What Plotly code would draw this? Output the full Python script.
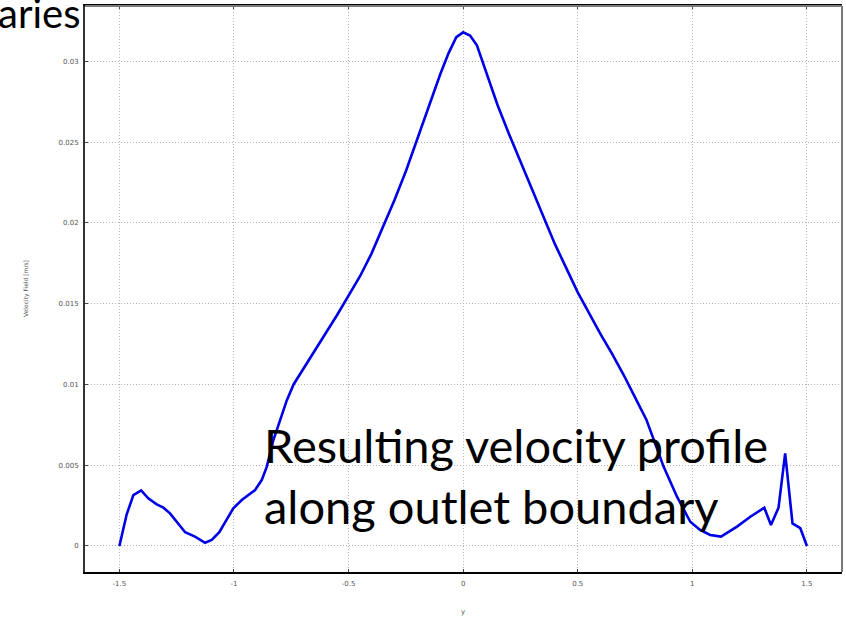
import plotly.graph_objects as go

# ---- data ----
y_pos = [-1.5, -1.468, -1.439, -1.405, -1.374, -1.337, -1.308, -1.279, -1.213, -1.170,
         -1.126, -1.097, -1.064, -1.031, -1.003, -0.966, -0.908, -0.879, -0.857, -0.828,
         -0.799, -0.77, -0.74, -0.70, -0.65, -0.60, -0.55, -0.50, -0.45, -0.40,
         -0.35, -0.30, -0.25, -0.20, -0.15, -0.10, -0.064, -0.03, 0.0, 0.03,
         0.06, 0.10, 0.15, 0.20, 0.25, 0.30, 0.35, 0.40, 0.45, 0.50,
         0.55, 0.60, 0.65, 0.70, 0.75, 0.80, 0.875, 0.933, 0.991, 1.034,
         1.078, 1.125, 1.195, 1.253, 1.314, 1.343, 1.376, 1.405, 1.437, 1.471, 1.5]
velocity = [0.0, 0.00196, 0.00315, 0.00344, 0.00295, 0.00258, 0.00237, 0.00202, 0.00085, 0.00058,
            0.0002, 0.00037, 0.00085, 0.00161, 0.00233, 0.00285, 0.00346, 0.00408, 0.0049, 0.00656,
            0.0078, 0.0090, 0.0100, 0.0109, 0.0120, 0.0132, 0.0143, 0.0155, 0.0167, 0.0181,
            0.0197, 0.0214, 0.0232, 0.0252, 0.0272, 0.0292, 0.0305, 0.0315, 0.0318, 0.0316,
            0.0310, 0.0294, 0.0273, 0.0255, 0.0238, 0.0220, 0.0203, 0.0187, 0.0172, 0.0157,
            0.0144, 0.0131, 0.0119, 0.0106, 0.0092, 0.0078, 0.0049, 0.00305, 0.0015, 0.00099,
            0.00068, 0.00058, 0.0012, 0.00181, 0.00237, 0.0013, 0.00237, 0.00573, 0.0014, 0.0011, 0.0]

x_ticks = [-1.5, -1, -0.5, 0, 0.5, 1, 1.5]
x_tick_labels = ["-1.5", "-1", "-0.5", "0", "0.5", "1", "1.5"]
y_ticks = [0, 0.005, 0.01, 0.015, 0.02, 0.025, 0.03]
y_tick_labels = ["0", "0.005", "0.01", "0.015", "0.02", "0.025", "0.03"]

x_title = "y"
y_title = "Velocity Field [m/s]"
overlay_text = "Resulting velocity profile<br>along outlet boundary"
corner_text = "aries"

# ---- layout geometry (pixels) ----
W, H = 846, 626
L, R, T, B = 85, 4, 6, 54
pw, ph = W - L - R, H - T - B

def px2paper(px, py):
    return (px - L) / pw, (H - B - py) / ph

fig = go.Figure()
fig.add_trace(go.Scatter(x=y_pos, y=velocity, mode="lines",
                         line=dict(color="#0000e6", width=2.6), showlegend=False))

tickfont = dict(family="DejaVu Sans", size=7, color="#555555")
grid = dict(showgrid=True, gridcolor="#b4b4b4", griddash="1px,2px", gridwidth=1, zeroline=False)
fig.update_xaxes(range=[-1.65, 1.653], tickvals=x_ticks, ticktext=x_tick_labels,
                 showline=True, linecolor="#000000", linewidth=2,
                 ticks="inside", ticklen=3, tickcolor="#444444", mirror="ticks",
                 tickfont=tickfont, ticklabelstandoff=4, **grid)
fig.update_yaxes(range=[-0.00161, 0.03343], tickvals=y_ticks, ticktext=y_tick_labels,
                 showline=True, linecolor="#333333", linewidth=2,
                 ticks="inside", ticklen=3, tickcolor="#444444",
                 tickfont=tickfont, ticklabelstandoff=3, **grid)

# lighter top/right frame
fig.add_shape(type="line", xref="paper", yref="paper", x0=0, x1=1, y0=1, y1=1,
              line=dict(color="#7a7a7a", width=2))
fig.add_shape(type="line", xref="paper", yref="paper", x0=1, x1=1, y0=0, y1=1,
              line=dict(color="#7a7a7a", width=2))

ann = []
x0, y0 = px2paper(463, 618)
ann.append(dict(text=x_title, x=x0, y=y0, xref="paper", yref="paper", showarrow=False,
                font=dict(family="DejaVu Sans", size=7, color="#555555")))
x0, y0 = px2paper(20, 289)
ann.append(dict(text=y_title, x=x0, y=y0, xref="paper", yref="paper", showarrow=False,
                textangle=-90, font=dict(family="DejaVu Sans", size=6, color="#555555")))
x0, y0 = px2paper(262, 475)
ann.append(dict(text=overlay_text, x=x0, y=y0, xref="paper", yref="paper", showarrow=False,
                xanchor="left", yanchor="middle", align="left",
                font=dict(family="Lato", size=47, color="#000000")))
x0, y0 = px2paper(82, 13)
ann.append(dict(text=corner_text, x=x0, y=y0, xref="paper", yref="paper", showarrow=False,
                xanchor="right", yanchor="middle",
                font=dict(family="Lato", size=40, color="#000000")))

fig.update_layout(width=W, height=H, margin=dict(l=L, r=R, t=T, b=B),
                  paper_bgcolor="white", plot_bgcolor="white", annotations=ann)

fig.write_html("out.html", config={"displayModeBar": False},
               post_script="document.body.style.margin='0px';")
